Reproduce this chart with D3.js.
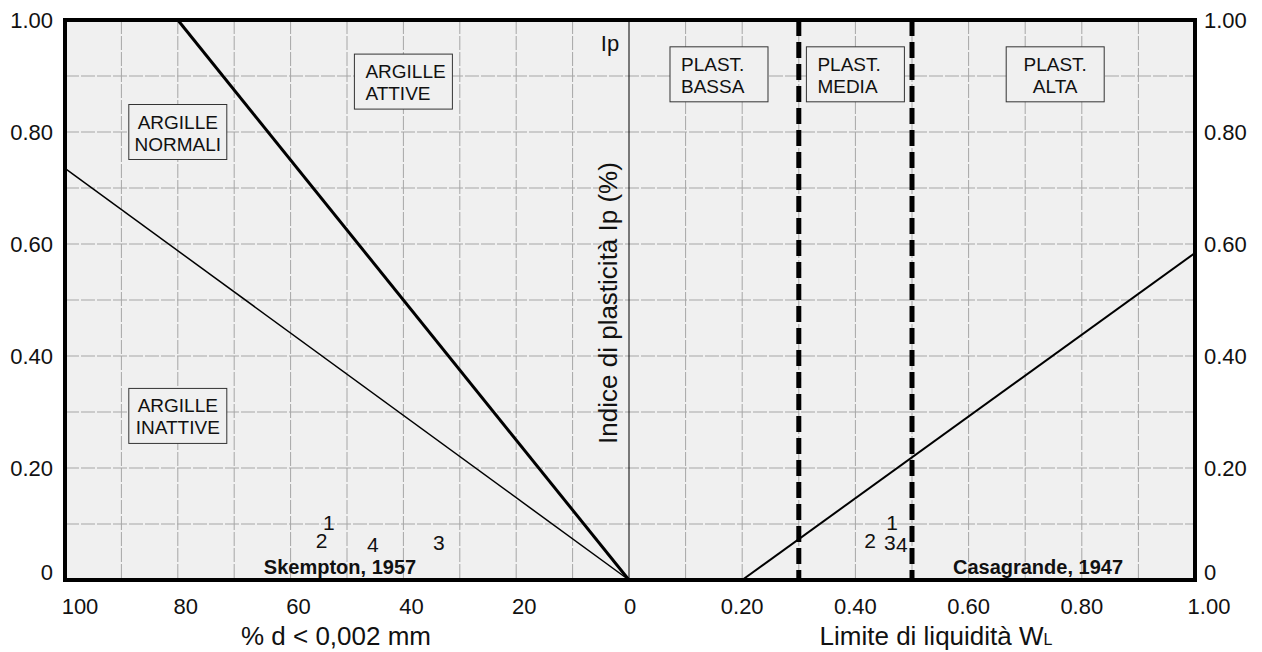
<!DOCTYPE html>
<html>
<head>
<meta charset="utf-8">
<script src="https://cdn.jsdelivr.net/npm/d3@7/dist/d3.min.js"></script>
<style>
  body { margin: 0; background: #fff; }
  text { font-family: "Liberation Sans", Arial, sans-serif; fill: #111; }
</style>
</head>
<body>
<script>
(function(d3) {

  // Tick values of the three axes
  var clayTicks = [100, 80, 60, 40, 20, 0];
  var wlTicks = [0.20, 0.40, 0.60, 0.80, 1.00];
  var ipTicks = [0, 0.20, 0.40, 0.60, 0.80, 1.00];

  // Skempton activity lines (clay %, Ip) and Casagrande A-line (WL, Ip)
  var activeLine = [[0, 0], [80, 1.00]];
  var inactiveLine = [[0, 0], [100, 0.735]];
  var aLine = [[0.20, 0], [1.00, 0.584]];
  var plastLimits = [0.30, 0.50];

  // Samples
  var sampleIds = ['1', '2', '3', '4'];
  var sampleClay = [53.2, 54.5, 33.7, 45.4];
  var sampleWL = [0.465, 0.426, 0.461, 0.482];
  var sampleIp = [0.102, 0.071, 0.066, 0.064];

  // Zone labels
  var clayZones = [['ARGILLE', 'NORMALI'], ['ARGILLE', 'ATTIVE'], ['ARGILLE', 'INATTIVE']];
  var clayZoneX = [80, 40, 80];
  var clayZoneY = [0.80, 0.89, 0.293];
  var plastZones = [['PLAST.', 'BASSA'], ['PLAST.', 'MEDIA'], ['PLAST.', 'ALTA']];
  var plastZoneX = [0.159, 0.40, 0.753];
  var plastZoneY = [0.903, 0.903, 0.903];

  var width = 1262, height = 652;
  var left = 65, right = 1195, top = 20, bottom = 580, mid = 629;

  var svg = d3.select('body').append('svg')
    .attr('width', width)
    .attr('height', height);

  var xL = d3.scaleLinear().domain([100, 0]).range([left, mid]);
  var xR = d3.scaleLinear().domain([0, 1]).range([mid, right]);
  var y = d3.scaleLinear().domain([0, 1]).range([bottom, top]);

  svg.append('rect')
    .attr('x', left).attr('y', top)
    .attr('width', right - left).attr('height', bottom - top)
    .attr('fill', '#f0f0f0');

  // grid
  var grid = svg.append('g')
    .attr('stroke', '#a6a6a6')
    .attr('stroke-width', 1)
    .attr('stroke-dasharray', '14,2');

  grid.selectAll('.vl').data(d3.range(10, 100, 10)).enter().append('line')
    .attr('x1', function(d) { return xL(d); }).attr('x2', function(d) { return xL(d); })
    .attr('y1', top).attr('y2', bottom);

  grid.selectAll('.vr').data(d3.range(1, 10).map(function(i) { return i / 10; })).enter().append('line')
    .attr('x1', function(d) { return xR(d); }).attr('x2', function(d) { return xR(d); })
    .attr('y1', top).attr('y2', bottom);

  grid.selectAll('.h').data(d3.range(1, 10).map(function(i) { return i / 10; })).enter().append('line')
    .attr('x1', left).attr('x2', right)
    .attr('y1', function(d) { return y(d); }).attr('y2', function(d) { return y(d); });

  // centre divider
  svg.append('line')
    .attr('x1', mid).attr('x2', mid).attr('y1', top).attr('y2', bottom)
    .attr('stroke', '#000').attr('stroke-width', 1);

  var lineL = d3.line().x(function(d) { return xL(d[0]); }).y(function(d) { return y(d[1]); });
  var lineR = d3.line().x(function(d) { return xR(d[0]); }).y(function(d) { return y(d[1]); });

  svg.append('path').attr('d', lineL(inactiveLine))
    .attr('fill', 'none').attr('stroke', '#000').attr('stroke-width', 1.5);
  svg.append('path').attr('d', lineL(activeLine))
    .attr('fill', 'none').attr('stroke', '#000').attr('stroke-width', 3);
  svg.append('path').attr('d', lineR(aLine))
    .attr('fill', 'none').attr('stroke', '#000').attr('stroke-width', 2);

  svg.selectAll('.plim').data(plastLimits).enter().append('line')
    .attr('x1', function(d) { return xR(d); }).attr('x2', function(d) { return xR(d); })
    .attr('y1', top).attr('y2', bottom)
    .attr('stroke', '#000').attr('stroke-width', 5)
    .attr('stroke-dasharray', '16,6');

  // zone boxes
  var boxW = 98, boxH = 55;
  function zoneBox(lines, cx, cy, align) {
    var g = svg.append('g')
      .attr('transform', 'translate(' + (cx - boxW / 2) + ',' + (cy - boxH / 2) + ')');
    g.append('rect')
      .attr('width', boxW).attr('height', boxH)
      .attr('fill', '#f0f0f0').attr('stroke', '#333').attr('stroke-width', 1);
    g.selectAll('text').data(lines).enter().append('text')
      .attr('x', align === 'start' ? 11 : boxW / 2)
      .attr('y', function(d, i) { return 24 + i * 22; })
      .attr('text-anchor', align)
      .attr('font-size', 19)
      .text(function(d) { return d; });
  }
  var clayAlign = ['middle', 'start', 'middle'];
  var plastAlign = ['start', 'start', 'middle'];
  clayZones.forEach(function(z, i) { zoneBox(z, xL(clayZoneX[i]), y(clayZoneY[i]), clayAlign[i]); });
  plastZones.forEach(function(z, i) { zoneBox(z, xR(plastZoneX[i]), y(plastZoneY[i]), plastAlign[i]); });

  // sample labels
  sampleIds.forEach(function(id, i) {
    svg.append('text')
      .attr('x', xL(sampleClay[i])).attr('y', y(sampleIp[i]))
      .attr('text-anchor', 'middle').attr('dy', '0.35em')
      .attr('font-size', 21).text(id);
    svg.append('text')
      .attr('x', xR(sampleWL[i])).attr('y', y(sampleIp[i]))
      .attr('text-anchor', 'middle').attr('dy', '0.35em')
      .attr('font-size', 21).text(id);
  });

  svg.append('text').attr('x', 340).attr('y', 574)
    .attr('text-anchor', 'middle').attr('font-size', 20).attr('font-weight', 'bold')
    .text('Skempton, 1957');
  svg.append('text').attr('x', 1038).attr('y', 574)
    .attr('text-anchor', 'middle').attr('font-size', 20).attr('font-weight', 'bold')
    .text('Casagrande, 1947');

  // border
  svg.append('rect')
    .attr('x', left).attr('y', top)
    .attr('width', right - left).attr('height', bottom - top)
    .attr('fill', 'none').attr('stroke', '#000').attr('stroke-width', 4);

  // y tick labels, both sides
  function ipFmt(d) { return d === 0 ? '0' : d3.format('.2f')(d); }
  svg.selectAll('.yl').data(ipTicks).enter().append('text')
    .attr('x', 53)
    .attr('y', function(d) { return y(d) - (d === 0 ? 8 : 0); })
    .attr('dy', '0.35em').attr('text-anchor', 'end').attr('font-size', 22)
    .text(ipFmt);
  svg.selectAll('.yr').data(ipTicks).enter().append('text')
    .attr('x', 1204)
    .attr('y', function(d) { return y(d) - (d === 0 ? 8 : 0); })
    .attr('dy', '0.35em').attr('text-anchor', 'start').attr('font-size', 22)
    .text(ipFmt);

  // x tick labels
  svg.selectAll('.xl').data(clayTicks).enter().append('text')
    .attr('x', function(d) { return xL(d) + (d === 100 ? 15 : d === 0 ? 1 : 8); })
    .attr('y', 614).attr('text-anchor', 'middle').attr('font-size', 22)
    .text(function(d) { return d; });
  svg.selectAll('.xr').data(wlTicks).enter().append('text')
    .attr('x', function(d) { return xR(d) + (d === 1 ? 14 : 0); })
    .attr('y', 614).attr('text-anchor', 'middle').attr('font-size', 22)
    .text(d3.format('.2f'));

  // axis titles
  svg.append('text').attr('x', 336).attr('y', 645)
    .attr('text-anchor', 'middle').attr('font-size', 26)
    .text('% d < 0,002 mm');
  var wl = svg.append('text').attr('x', 936).attr('y', 645)
    .attr('text-anchor', 'middle').attr('font-size', 26);
  wl.append('tspan').text('Limite di liquidità W');
  wl.append('tspan').attr('font-size', 16).text('L');

  svg.append('text')
    .attr('transform', 'translate(617,303) rotate(-90)')
    .attr('text-anchor', 'middle').attr('font-size', 26)
    .text('Indice di plasticità Ip (%)');
  svg.append('text').attr('x', 610).attr('y', 51)
    .attr('text-anchor', 'middle').attr('font-size', 22)
    .text('Ip');

})(d3);
</script>
</body>
</html>
